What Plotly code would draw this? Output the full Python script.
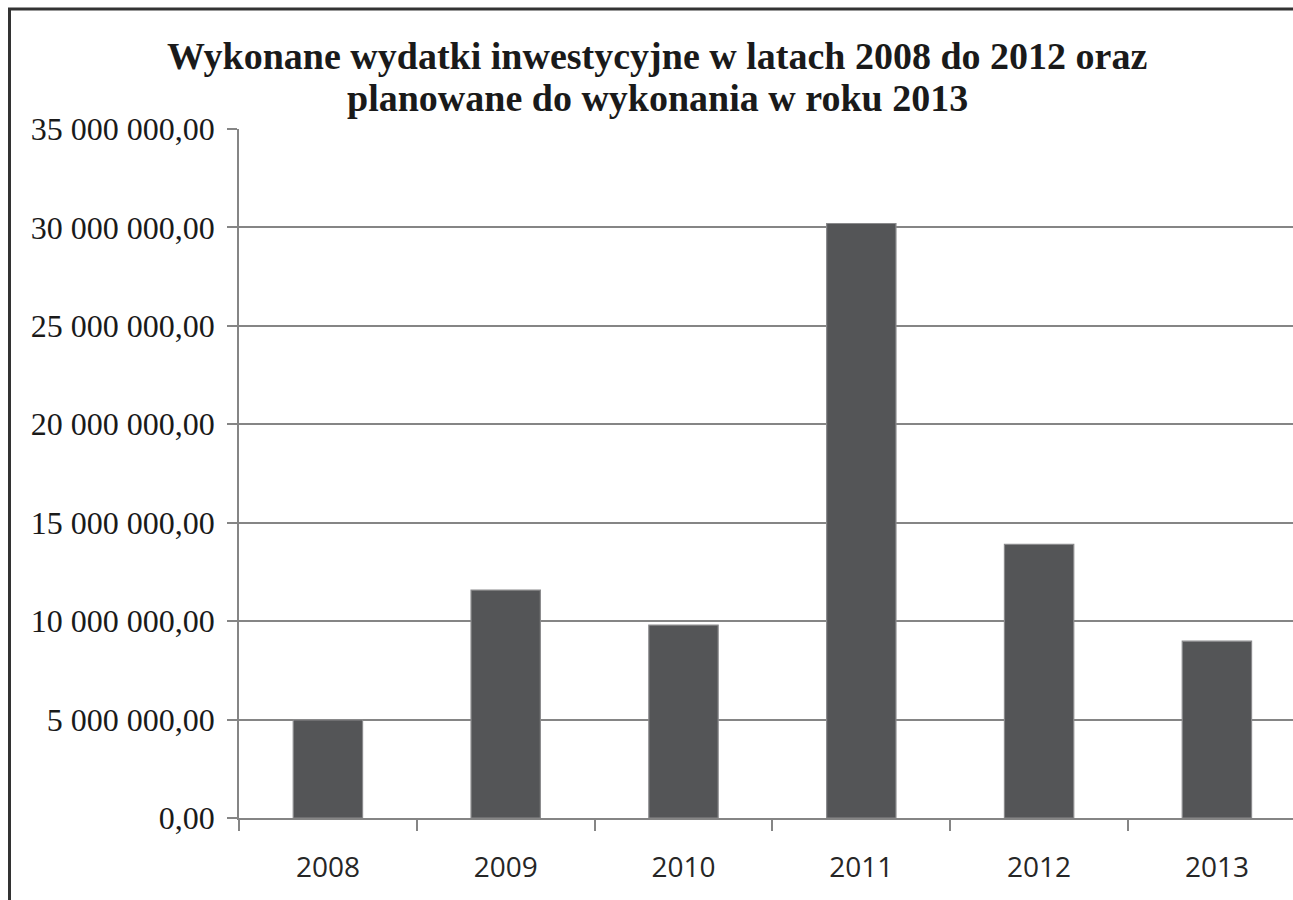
import plotly.graph_objects as go

years = ["2008", "2009", "2010", "2011", "2012", "2013"]
values = [4980000, 11580000, 9800000, 30200000, 13900000, 8980000]
y_tick_vals = [0, 5000000, 10000000, 15000000, 20000000, 25000000, 30000000, 35000000]
y_tick_text = ["0,00", "5 000 000,00", "10 000 000,00", "15 000 000,00",
               "20 000 000,00", "25 000 000,00", "30 000 000,00", "35 000 000,00"]
title_line1 = "Wykonane wydatki inwestycyjne w latach 2008 do 2012 oraz"
title_line2 = "planowane do wykonania w roku 2013"

W, H = 1293, 900
L, R, T, B = 239, 0, 129, 82
PW, PH = W - L - R, H - T - B


def px_x(x):  # page pixel -> paper x
    return (x - L) / PW


def px_y(y):  # page pixel -> paper y
    return (H - B - y) / PH


fig = go.Figure(go.Bar(
    x=years, y=values,
    width=0.39,
    marker=dict(color="#545557", line=dict(color="#8a8a8c", width=1.2)),
))

title_font = dict(family="Liberation Serif", size=38, color="#1a1a1a")

fig.update_layout(
    width=W, height=H,
    margin=dict(l=L, r=R, t=T, b=B, pad=0),
    paper_bgcolor="white", plot_bgcolor="white",
    showlegend=False,
    annotations=[
        dict(text="<b>" + title_line1 + "</b>", xref="paper", yref="paper",
             x=px_x(657), y=px_y(56), xanchor="center", yanchor="middle",
             showarrow=False, font=title_font),
        dict(text="<b>" + title_line2 + "</b>", xref="paper", yref="paper",
             x=px_x(657), y=px_y(98), xanchor="center", yanchor="middle",
             showarrow=False, font=title_font),
    ],
    xaxis=dict(range=[-0.5, 5.428], showline=True, linecolor="#858585", linewidth=1.5,
               ticks="outside", tickson="boundaries", ticklen=11, tickcolor="#858585",
               tickwidth=1.5, showgrid=False, ticklabelstandoff=24,
               tickfont=dict(family="Open Sans", size=28, color="#262626")),
    yaxis=dict(range=[0, 35000000], tickvals=y_tick_vals, ticktext=y_tick_text,
               showline=True, linecolor="#858585", linewidth=1.5,
               ticks="outside", ticklen=10, tickcolor="#858585", tickwidth=1.5,
               showgrid=True, gridcolor="#858585", gridwidth=1.5,
               zeroline=False, ticklabelstandoff=6,
               tickfont=dict(family="Liberation Serif", size=32, color="#1a1a1a")),
    shapes=[
        dict(type="line", xref="paper", yref="paper",
             x0=px_x(9.5), x1=px_x(9.5), y0=px_y(8), y1=px_y(900),
             line=dict(color="#333333", width=3)),
        dict(type="line", xref="paper", yref="paper",
             x0=px_x(8), x1=px_x(1293), y0=px_y(9), y1=px_y(9),
             line=dict(color="#333333", width=3)),
    ],
)

fig.write_html("out.html", config={"displayModeBar": False},
               post_script="document.body.style.margin='0';document.body.style.overflow='hidden';")
